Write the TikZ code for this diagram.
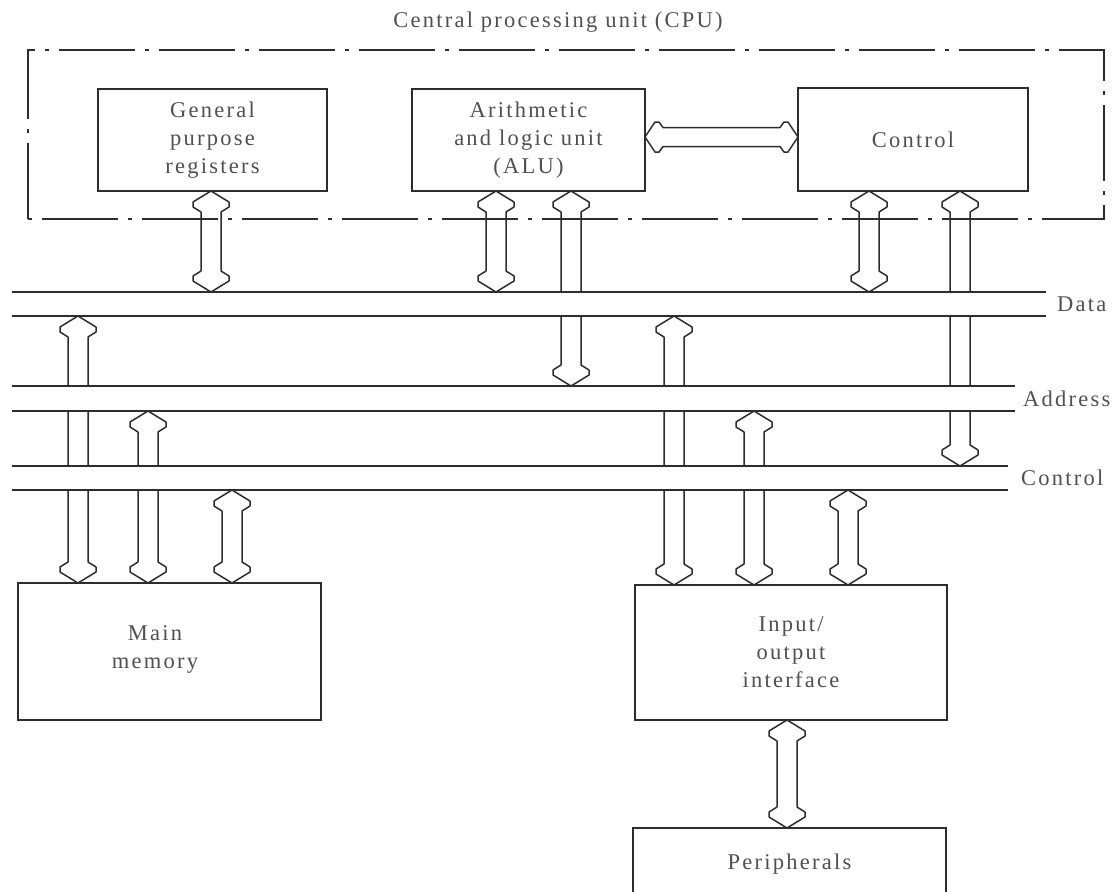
\documentclass[tikz,border=0pt]{standalone}
\usepackage{fontspec}
\setmainfont{Liberation Serif}[LetterSpace=10]
\usetikzlibrary{calc}

\definecolor{ink}{RGB}{45,45,45}
\definecolor{txt}{RGB}{80,80,80}

% block-arrow geometry (pt)
\newcommand\bahw{18pt}   % half width of the head
\newcommand\basw{10pt}   % half width of the shaft
\newcommand\baha{11pt}   % tip to outer corner
\newcommand\bahb{16pt}   % tip to end of outer edge
\newcommand\bahc{21pt}   % tip to shaft

% vertical two-headed block arrow, #1 upper end, #2 lower end
\newcommand\busarrowv[2]{%
  \path[blockarrow] let \p1=(#1), \p2=(#2) in
    (\x1,\y1) -- (\x1+\bahw,\y1-\baha) -- (\x1+\bahw,\y1-\bahb) -- (\x1+\basw,\y1-\bahc)
    -- (\x1+\basw,\y2+\bahc) -- (\x1+\bahw,\y2+\bahb) -- (\x1+\bahw,\y2+\baha) -- (\x1,\y2)
    -- (\x1-\bahw,\y2+\baha) -- (\x1-\bahw,\y2+\bahb) -- (\x1-\basw,\y2+\bahc)
    -- (\x1-\basw,\y1-\bahc) -- (\x1-\bahw,\y1-\bahb) -- (\x1-\bahw,\y1-\baha) -- cycle;}

% horizontal two-headed block arrow, #1 left end, #2 right end
\newcommand\busarrowh[2]{%
  \path[blockarrow] let \p1=(#1), \p2=(#2) in
    (\x1,\y1) -- (\x1+10pt,\y1+15pt) -- (\x1+14pt,\y1+15pt) -- (\x1+18pt,\y1+9.5pt)
    -- (\x2-18pt,\y1+9.5pt) -- (\x2-14pt,\y1+15pt) -- (\x2-10pt,\y1+15pt) -- (\x2,\y1)
    -- (\x2-10pt,\y1-15pt) -- (\x2-14pt,\y1-15pt) -- (\x2-18pt,\y1-9.5pt)
    -- (\x1+18pt,\y1-9.5pt) -- (\x1+14pt,\y1-15pt) -- (\x1+10pt,\y1-15pt) -- cycle;}

\begin{document}
\begin{tikzpicture}[x=1pt,y=-1pt,
  unit/.style={draw=ink, line width=1.6pt, fill=white, inner sep=0pt, outer sep=0pt,
               align=center, text=txt, font=\fontsize{22.5}{28}\selectfont},
  txtlabel/.style={text=txt, inner sep=0pt, align=center, font=\fontsize{22.5}{28}\selectfont},
  blockarrow/.style={draw=ink, fill=white, line width=1.5pt, line join=round},
  busline/.style={draw=ink, line width=1.5pt},
  bus/.style={inner sep=0pt, outer sep=0pt},
  cpuframe/.style={draw=ink, line width=1.5pt, dash pattern=on 76pt off 10pt on 4pt off 10pt}]

\useasboundingbox (0,0) rectangle (1120,892);
\clip (0,0) rectangle (1120,892);

% CPU
\node[txtlabel] (title) at (558,22) {Central processing unit (CPU)};
\node[bus, minimum width=1076pt, minimum height=169pt] (cpu) at (566,134.5) {};
\node[unit, minimum width=229pt, minimum height=102pt] (gpr) at (212.5,140) {General\\purpose\\registers};
\node[unit, minimum width=233pt, minimum height=102pt] (alu) at (528.5,140) {Arithmetic\\and logic unit\\(ALU)};
\node[unit, minimum width=230pt, minimum height=103pt] (ctrl) at (913,139.5) {Control};

% system buses (placeholders; bands drawn over the arrows below)
\node[bus, minimum width=1034pt, minimum height=24pt] (databus) at (529,304) {};
\node[bus, minimum width=1003pt, minimum height=25pt] (addrbus) at (513.5,398.5) {};
\node[bus, minimum width=996pt,  minimum height=24pt] (ctrlbus) at (510,478) {};

% memory and I/O
\node[unit, minimum width=303pt, minimum height=137pt] (mem) at (169.5,651.5) {};
\node[txtlabel] (memtext) at (155,649) {Main\\memory};
\node[unit, minimum width=312pt, minimum height=135pt] (io) at (791,652.5) {Input/\\output\\interface};
\node[unit, minimum width=313pt, minimum height=72pt] (per) at (789.5,864) {Peripherals};

% CPU units <-> buses
\coordinate (g1) at (gpr.south -| 211,0);  \coordinate (g2) at (databus.north -| 211,0);
\coordinate (u1) at (alu.south -| 496,0);  \coordinate (u2) at (databus.north -| 496,0);
\coordinate (u3) at (alu.south -| 571,0);  \coordinate (u4) at (addrbus.north -| 571,0);
\coordinate (c1) at (ctrl.south -| 869,0); \coordinate (c2) at (databus.north -| 869,0);
\coordinate (c3) at (ctrl.south -| 960,0); \coordinate (c4) at (ctrlbus.north -| 960,0);
\busarrowv{g1}{g2}
\busarrowv{u1}{u2}
\busarrowv{u3}{u4}
\busarrowv{c1}{c2}
\busarrowv{c3}{c4}

% ALU <-> control
\coordinate (h1) at (alu.east |- 0,137); \coordinate (h2) at (ctrl.west |- 0,137);
\busarrowh{h1}{h2}

% buses <-> main memory
\coordinate (m1) at (databus.south -| 78,0);  \coordinate (m2) at (mem.north -| 78,0);
\coordinate (m3) at (addrbus.south -| 148,0); \coordinate (m4) at (mem.north -| 148,0);
\coordinate (m5) at (ctrlbus.south -| 232,0); \coordinate (m6) at (mem.north -| 232,0);
\busarrowv{m1}{m2}
\busarrowv{m3}{m4}
\busarrowv{m5}{m6}

% buses <-> I/O interface
\coordinate (i1) at (databus.south -| 674,0); \coordinate (i2) at (io.north -| 674,0);
\coordinate (i3) at (addrbus.south -| 754,0); \coordinate (i4) at (io.north -| 754,0);
\coordinate (i5) at (ctrlbus.south -| 848,0); \coordinate (i6) at (io.north -| 848,0);
\busarrowv{i1}{i2}
\busarrowv{i3}{i4}
\busarrowv{i5}{i6}

% I/O interface <-> peripherals
\coordinate (p1) at (io.south -| 787,0); \coordinate (p2) at (per.north -| 787,0);
\busarrowv{p1}{p2}

% bus bands hide the shafts that pass beneath them
\foreach \b in {databus,addrbus,ctrlbus}{
  \fill[white] (\b.north west) rectangle (\b.south east);
  \draw[busline] (\b.north west) -- (\b.north east) (\b.south west) -- (\b.south east);
}
\node[txtlabel, anchor=west] (datalbl) at ($(databus.east)+(11,0)$) {Data};
\node[txtlabel, anchor=west] (addrlbl) at ($(addrbus.east)+(8,0)$) {Address};
\node[txtlabel, anchor=west] (ctrllbl) at ($(ctrlbus.east)+(13,0)$) {Control};

% CPU boundary
\draw[cpuframe] (cpu.south west) -- (cpu.north west) -- (cpu.north east) -- (cpu.south east) -- cycle;

\end{tikzpicture}
\end{document}
